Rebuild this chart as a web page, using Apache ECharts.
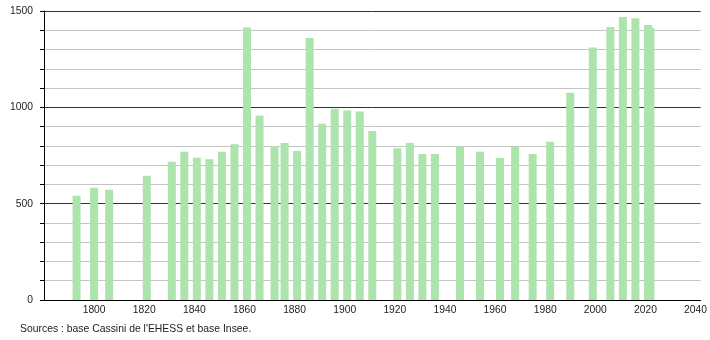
<!DOCTYPE html>
<html>
<head>
<meta charset="utf-8">
<script src="https://cdn.jsdelivr.net/npm/echarts@6/dist/echarts.min.js"></script>
<style>
html,body{margin:0;padding:0;background:#fff;}
#c{width:710px;height:340px;}
</style>
</head>
<body>
<div id="c"></div>
<script>
var years = [1793,1800,1806,1821,1831,1836,1841,1846,1851,1856,1861,1866,1872,1876,1881,1886,1891,1896,1901,1906,1911,1921,1926,1931,1936,1946,1954,1962,1968,1975,1982,1990,1999,2006,2011,2016,2021,2022];
var population = [541,583,572,645,717,770,738,730,770,809,1415,958,799,815,773,1360,915,992,984,979,877,787,815,758,758,797,770,737,796,758,821,1076,1310,1417,1469,1463,1427,1413];
var xTickLabels = [1800,1820,1840,1860,1880,1900,1920,1940,1960,1980,2000,2020,2040];
var yTickLabels = [0,500,1000,1500];
var sourceText = "Sources : base Cassini de l'EHESS et base Insee.";

var chart = echarts.init(document.getElementById('c'), null, {renderer:'canvas'});
var font = 'Liberation Sans, Arial, sans-serif';
chart.setOption({
  animation:false,
  backgroundColor:'#fff',
  grid:{left:44,right:9,top:11,bottom:40,containLabel:false},
  xAxis:{
    type:'value', min:1780, max:2042, interval:20,
    axisLine:{lineStyle:{color:'#000',width:1}},
    axisTick:{show:false},
    splitLine:{show:false},
    axisLabel:{
      color:'#222', fontFamily:font, fontSize:10.3, margin:5,
      formatter:function(v){ return xTickLabels.indexOf(v) >= 0 ? String(v) : ''; }
    }
  },
  yAxis:{
    type:'value', min:0, max:1500, interval:100,
    axisLine:{show:true,lineStyle:{color:'#000',width:1}},
    axisTick:{show:true,length:4,lineStyle:{color:'#000'}},
    splitLine:{show:true,lineStyle:{color:['#333','#c4c4c4','#c4c4c4','#c4c4c4','#c4c4c4'],width:1}},
    axisLabel:{
      color:'#222', fontFamily:font, fontSize:10.3, margin:11,
      formatter:function(v){ return yTickLabels.indexOf(v) >= 0 ? String(v) : ''; }
    }
  },
  series:[{
    type:'bar',
    barWidth:8,
    itemStyle:{color:'#ade3ad'},
    data: years.map(function(y,i){ return [y, population[i]]; })
  }],
  graphic:[{
    type:'text', left:20, top:324,
    style:{text:sourceText, fill:'#222', font:'10.4px ' + font}
  }]
});
</script>
</body>
</html>
